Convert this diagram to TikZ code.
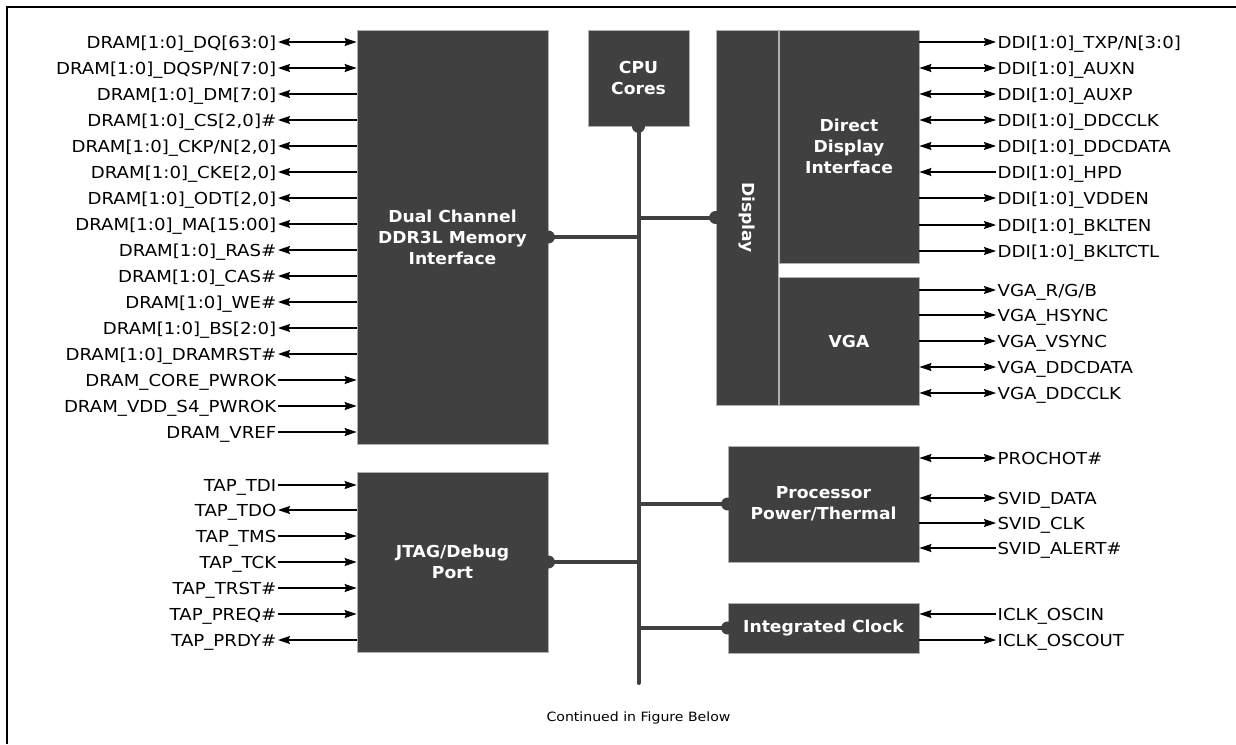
\documentclass[tikz,border=0pt]{standalone}
\usepackage{fontspec}
\setmainfont{DejaVu Sans}[FakeStretch=1.1]
\newfontfamily\blkfont{DejaVu Sans}[FakeStretch=1.04]
\usetikzlibrary{arrows.meta}
\definecolor{blk}{HTML}{404040}
\definecolor{edgegray}{HTML}{B0B0B0}
\tikzset{
  block/.style={fill=blk, draw=edgegray, line width=0.8pt, text=white, align=center, inner sep=0pt,
    font=\blkfont\bfseries\fontsize{16.5}{21}\selectfont},
  btext/.style={text=white, inner sep=0pt, font=\blkfont\bfseries\fontsize{16.5}{21}\selectfont},
  lbl/.style={inner sep=1.5pt, text height=12pt, text depth=0pt, font=\fontsize{16.5}{20}\selectfont, text=black},
  tip/.tip={Stealth[length=12pt,width=8pt,inset=1.5pt]},
  sig/.style={line width=1.2pt, black},
  Li/.style={sig, -tip}, Lo/.style={sig, tip-}, Lb/.style={sig, tip-tip},
  Ri/.style={sig, tip-}, Ro/.style={sig, -tip}, Rb/.style={sig, tip-tip},
  bus/.style={line width=4pt, blk},
  dot/.style={fill=blk},
}
\begin{document}
\begin{tikzpicture}[x=1pt,y=-1pt]
\useasboundingbox (0,0) rectangle (1236,744);
% frame
\draw[line width=1.5pt] (7,744) -- (7,7) -- (1236,7);

% blocks
\node[block, minimum width=191pt, minimum height=414pt] (ddr) at (452.5,237) {Dual Channel\\DDR3L Memory\\Interface};
\node[block, minimum width=191pt, minimum height=180pt] (jtag) at (452.5,562) {JTAG/Debug\\Port};
\node[block, minimum width=101pt, minimum height=96pt] (cpu) at (638.5,78) {CPU\\Cores};
\node[block, minimum width=62pt, minimum height=375pt] (disp) at (747,217.5) {};
\node[btext, rotate=-90] (disptxt) at (disp.center) {Display};
\node[block, minimum width=140pt, minimum height=233pt] (ddi) at (849,146.5) {Direct\\Display\\Interface};
\node[block, minimum width=140pt, minimum height=128pt] (vga) at (849,341) {VGA};
\node[block, minimum width=191pt, minimum height=116pt] (pwr) at (823.5,504) {Processor\\Power/Thermal};
\node[block, minimum width=191pt, minimum height=50pt] (clk) at (823.5,628) {Integrated Clock};

% bus
\coordinate (busend) at (638.5,683);
\draw[bus, line cap=round] (cpu.south) -- (busend);
\draw[bus] (ddr.east) -- (ddr.east -| busend);
\draw[bus] (jtag.east) -- (jtag.east -| busend);
\draw[bus] (disp.west) -- (disp.west -| busend);
\draw[bus] (pwr.west) -- (pwr.west -| busend);
\draw[bus] (clk.west) -- (clk.west -| busend);
\foreach \n/\a in {ddr/east, jtag/east, disp/west, pwr/west, clk/west, cpu/south}
  \fill[dot] (\n.\a) circle (6.5pt);

% DRAM signals
\foreach \t/\yy/\d [count=\i] in {
  {DRAM[1:0]\_DQ[63:0]}/42/b,
  {DRAM[1:0]\_DQSP/N[7:0]}/68/b,
  {DRAM[1:0]\_DM[7:0]}/94/o,
  {DRAM[1:0]\_CS[2,0]\#}/120/o,
  {DRAM[1:0]\_CKP/N[2,0]}/146/o,
  {DRAM[1:0]\_CKE[2,0]}/172/o,
  {DRAM[1:0]\_ODT[2,0]}/198/o,
  {DRAM[1:0]\_MA[15:00]}/224/o,
  {DRAM[1:0]\_RAS\#}/250/o,
  {DRAM[1:0]\_CAS\#}/276/o,
  {DRAM[1:0]\_WE\#}/302/o,
  {DRAM[1:0]\_BS[2:0]}/328/o,
  {DRAM[1:0]\_DRAMRST\#}/354/o,
  {DRAM\_CORE\_PWROK}/380/i,
  {DRAM\_VDD\_S4\_PWROK}/406/i,
  {DRAM\_VREF}/432/i}{
  \node[lbl, anchor=east] (dl\i) at (278,\yy) {\t};
  \draw[L\d] (dl\i.east) -- (dl\i.east -| ddr.west);
}

% TAP signals
\foreach \t/\yy/\d [count=\i] in {
  {TAP\_TDI}/485/i,
  {TAP\_TDO}/510/o,
  {TAP\_TMS}/536/i,
  {TAP\_TCK}/562/i,
  {TAP\_TRST\#}/588/i,
  {TAP\_PREQ\#}/614/i,
  {TAP\_PRDY\#}/640/o}{
  \node[lbl, anchor=east] (tl\i) at (278,\yy) {\t};
  \draw[L\d] (tl\i.east) -- (tl\i.east -| jtag.west);
}

% DDI signals
\foreach \t/\yy/\d [count=\i] in {
  {DDI[1:0]\_TXP/N[3:0]}/42/o,
  {DDI[1:0]\_AUXN}/68/b,
  {DDI[1:0]\_AUXP}/94/b,
  {DDI[1:0]\_DDCCLK}/120/b,
  {DDI[1:0]\_DDCDATA}/146/b,
  {DDI[1:0]\_HPD}/172/i,
  {DDI[1:0]\_VDDEN}/198/o,
  {DDI[1:0]\_BKLTEN}/225/o,
  {DDI[1:0]\_BKLTCTL}/251/o}{
  \node[lbl, anchor=west] (dd\i) at (996,\yy) {\t};
  \draw[R\d] (ddi.east |- dd\i.west) -- (dd\i.west);
}

% VGA signals
\foreach \t/\yy/\d [count=\i] in {
  {VGA\_R/G/B}/290/o,
  {VGA\_HSYNC}/315/o,
  {VGA\_VSYNC}/341/o,
  {VGA\_DDCDATA}/367/b,
  {VGA\_DDCCLK}/393/b}{
  \node[lbl, anchor=west] (vg\i) at (996,\yy) {\t};
  \draw[R\d] (vga.east |- vg\i.west) -- (vg\i.west);
}

% Power signals
\foreach \t/\yy/\d [count=\i] in {
  {PROCHOT\#}/458/b,
  {SVID\_DATA}/498/b,
  {SVID\_CLK}/523/o,
  {SVID\_ALERT\#}/548/i}{
  \node[lbl, anchor=west] (pw\i) at (996,\yy) {\t};
  \draw[R\d] (pwr.east |- pw\i.west) -- (pw\i.west);
}

% Clock signals
\foreach \t/\yy/\d [count=\i] in {
  {ICLK\_OSCIN}/614/i,
  {ICLK\_OSCOUT}/640/o}{
  \node[lbl, anchor=west] (ck\i) at (996,\yy) {\t};
  \draw[R\d] (clk.east |- ck\i.west) -- (ck\i.west);
}

\node[font=\fontsize{12.8}{16}\selectfont, text=black, inner sep=0pt] (cont) at (638.5,718) {Continued in Figure Below};
\end{tikzpicture}
\end{document}
